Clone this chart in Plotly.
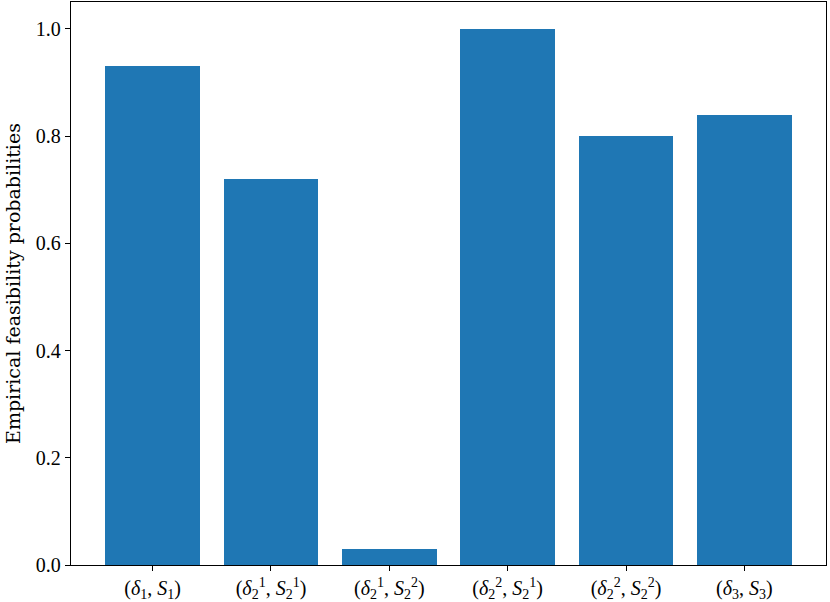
import plotly.graph_objects as go

categories = [
    "(<i>δ</i><sub>1</sub>, <i>S</i><sub>1</sub>)",
    "(<i>δ</i><sub>2</sub><sup>1</sup>, <i>S</i><sub>2</sub><sup>1</sup>)",
    "(<i>δ</i><sub>2</sub><sup>1</sup>, <i>S</i><sub>2</sub><sup>2</sup>)",
    "(<i>δ</i><sub>2</sub><sup>2</sup>, <i>S</i><sub>2</sub><sup>1</sup>)",
    "(<i>δ</i><sub>2</sub><sup>2</sup>, <i>S</i><sub>2</sub><sup>2</sup>)",
    "(<i>δ</i><sub>3</sub>, <i>S</i><sub>3</sub>)",
]
probabilities = [0.93, 0.72, 0.03, 1.0, 0.80, 0.84]
y_tick_values = [0, 0.2, 0.4, 0.6, 0.8, 1.0]
y_tick_labels = ["0.0", "0.2", "0.4", "0.6", "0.8", "1.0"]
positions = list(range(len(categories)))

TICK_FONT = "Liberation Serif, DejaVu Serif, serif"
TITLE_FONT = "DejaVu Serif, Liberation Serif, serif"

fig = go.Figure(
    go.Bar(
        x=positions,
        y=probabilities,
        width=0.8,
        marker=dict(color="#1f77b4", line=dict(width=0)),
    )
)

axis_common = dict(
    showline=True,
    linecolor="black",
    linewidth=1.3,
    mirror=True,
    ticks="outside",
    ticklen=5,
    tickwidth=1.2,
    tickcolor="black",
    showgrid=False,
    zeroline=False,
    automargin=False,
    tickfont=dict(family=TICK_FONT, size=20, color="black"),
)

fig.update_xaxes(
    **axis_common,
    range=[-0.69, 5.69],
    tickmode="array",
    tickvals=positions,
    ticktext=categories,
)
fig.update_yaxes(
    **axis_common,
    range=[0, 1.05],
    tickmode="array",
    tickvals=y_tick_values,
    ticktext=y_tick_labels,
    title=dict(
        text="Empirical feasibility probabilities",
        font=dict(family=TITLE_FONT, size=19, color="black"),
        standoff=10,
    ),
)

fig.update_layout(
    width=830,
    height=602,
    margin=dict(l=71, r=4, t=2, b=37),
    paper_bgcolor="white",
    plot_bgcolor="white",
    showlegend=False,
    bargap=0,
)

fig.write_html(
    "out.html",
    config={"displayModeBar": False},
    post_script="document.body.style.margin='0';document.body.style.overflow='hidden';",
)
